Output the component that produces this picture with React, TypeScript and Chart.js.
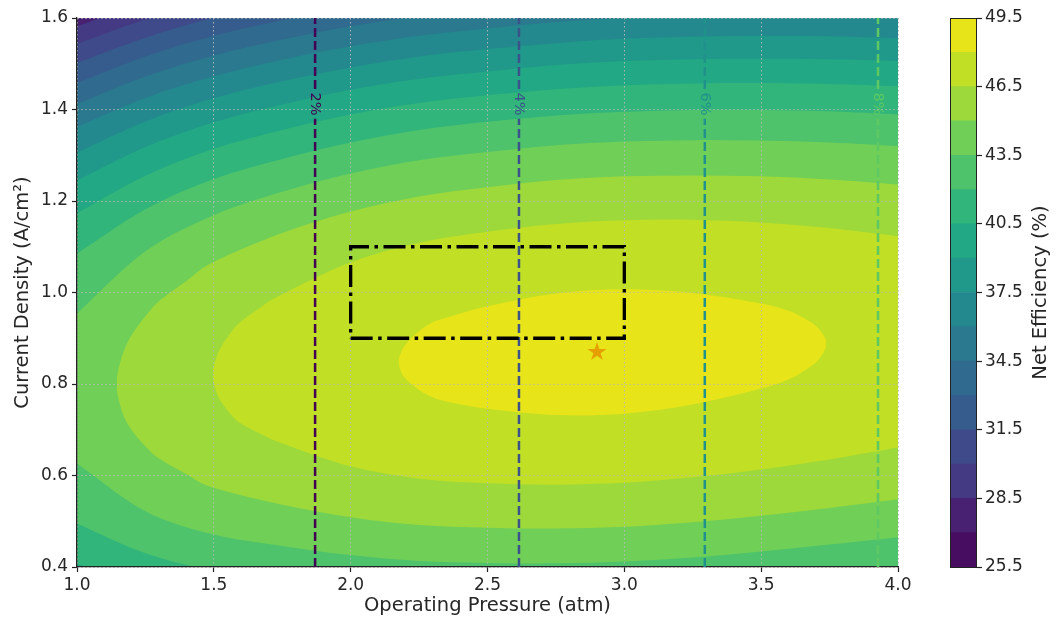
import React, { useEffect, useRef } from 'react';
import { Chart, registerables } from 'chart.js';

Chart.register(...registerables);

// ---------- data ----------
const pressureTicks = [1.0, 1.5, 2.0, 2.5, 3.0, 3.5, 4.0];
const densityTicks = [0.4, 0.6, 0.8, 1.0, 1.2, 1.4, 1.6];
const efficiencyLevels = [25.5, 27, 28.5, 30, 31.5, 33, 34.5, 36, 37.5, 39, 40.5, 42, 43.5, 45, 46.5, 48, 49.5];
const colorbarTicks = [25.5, 28.5, 31.5, 34.5, 37.5, 40.5, 43.5, 46.5, 49.5];

// Contour boundaries of net efficiency, [pressure (atm), current density (A/cm²)].
// Each loop encloses the region above its level (parts outside the axes are clipped).
const contour27 = [[0.85, 1.589], [1.0, 1.619], [1.25, 1.67], [4.15, 1.67], [4.2, 0.2], [0.8, 0.2]];
const contour28_5 = [[0.85, 1.551], [1.0, 1.582], [1.25, 1.634], [1.5, 1.67], [4.15, 1.67], [4.2, 0.2], [0.8, 0.2]];
const contour30 = [[0.85, 1.511], [1.0, 1.543], [1.25, 1.597], [1.5, 1.639], [1.75, 1.67], [4.15, 1.67], [4.2, 0.2], [0.8, 0.2]];
const contour31_5 = [[0.85, 1.469], [1.0, 1.502], [1.25, 1.557], [1.5, 1.601], [1.75, 1.634], [2.0, 1.66], [4.15, 1.66], [4.2, 0.2], [0.8, 0.2]];
const contour33 = [[0.85, 1.423], [1.0, 1.458], [1.25, 1.516], [1.5, 1.561], [1.75, 1.595], [2.0, 1.622], [2.25, 1.645], [2.5, 1.66], [4.15, 1.66], [4.2, 0.2], [0.8, 0.2]];
const contour34_5 = [[0.85, 1.376], [1.0, 1.412], [1.25, 1.472], [1.5, 1.518], [1.75, 1.553], [2.0, 1.582], [2.25, 1.604], [2.5, 1.62], [2.75, 1.633], [3.0, 1.643], [3.5, 1.65], [4.15, 1.65], [4.2, 0.2], [0.8, 0.2]];
const contour36 = [[0.85, 1.324], [1.0, 1.362], [1.25, 1.425], [1.5, 1.473], [1.75, 1.509], [2.0, 1.538], [2.25, 1.561], [2.5, 1.577], [2.75, 1.591], [3.0, 1.6], [3.25, 1.604], [3.5, 1.607], [3.75, 1.606], [4.0, 1.603], [4.15, 1.601], [4.2, 0.2], [0.8, 0.2]];
const contour37_5 = [[0.85, 1.265], [1.0, 1.306], [1.25, 1.374], [1.5, 1.425], [1.75, 1.462], [2.0, 1.492], [2.25, 1.516], [2.5, 1.532], [2.75, 1.545], [3.0, 1.555], [3.25, 1.559], [3.5, 1.561], [3.75, 1.56], [4.0, 1.556], [4.15, 1.554], [4.2, 0.2], [0.8, 0.2]];
const contour39 = [[0.85, 1.201], [1.0, 1.245], [1.25, 1.318], [1.5, 1.372], [1.75, 1.411], [2.0, 1.443], [2.25, 1.467], [2.5, 1.483], [2.75, 1.497], [3.0, 1.506], [3.25, 1.51], [3.5, 1.511], [3.75, 1.51], [4.0, 1.506], [4.15, 1.503], [4.2, 0.2], [0.8, 0.2]];
const contour40_5 = [[0.85, 1.124], [1.0, 1.173], [1.25, 1.255], [1.5, 1.314], [1.75, 1.355], [2.0, 1.389], [2.25, 1.414], [2.5, 1.431], [2.75, 1.444], [3.0, 1.453], [3.25, 1.457], [3.5, 1.458], [3.75, 1.456], [4.0, 1.451], [4.15, 1.448],
  [4.15, 0.341], [4.0, 0.333], [3.75, 0.32], [3.5, 0.308], [3.25, 0.297], [3.0, 0.289], [2.75, 0.285], [2.5, 0.286], [2.25, 0.288], [2.0, 0.298], [1.75, 0.311], [1.5, 0.326], [1.25, 0.357], [1.0, 0.407], [0.85, 0.437]];
const contour42 = [[0.85, 1.027], [1.0, 1.085], [1.25, 1.182], [1.5, 1.248], [1.75, 1.292], [2.0, 1.328], [2.25, 1.355], [2.5, 1.373], [2.75, 1.387], [3.0, 1.395], [3.25, 1.399], [3.5, 1.399], [3.75, 1.396], [4.0, 1.389], [4.15, 1.385],
  [4.15, 0.404], [4.0, 0.395], [3.75, 0.38], [3.5, 0.367], [3.25, 0.356], [3.0, 0.347], [2.75, 0.343], [2.5, 0.344], [2.25, 0.347], [2.0, 0.358], [1.75, 0.374], [1.5, 0.392], [1.25, 0.43], [1.0, 0.495], [0.85, 0.534]];
const contour43_5 = [[0.85, 0.872], [1.0, 0.954], [1.25, 1.09], [1.5, 1.169], [1.75, 1.22], [2.0, 1.26], [2.25, 1.289], [2.5, 1.307], [2.75, 1.322], [3.0, 1.33], [3.25, 1.333], [3.5, 1.332], [3.75, 1.328], [4.0, 1.32], [4.15, 1.315],
  [4.15, 0.475], [4.0, 0.465], [3.75, 0.449], [3.5, 0.434], [3.25, 0.421], [3.0, 0.412], [2.75, 0.408], [2.5, 0.409], [2.25, 0.413], [2.0, 0.426], [1.75, 0.446], [1.5, 0.471], [1.25, 0.522], [1.0, 0.626], [0.85, 0.688]];
const contour45 = [[1.146, 0.8], [1.15, 0.828], [1.17, 0.87], [1.2, 0.907], [1.25, 0.948], [1.3, 0.981], [1.4, 1.025], [1.5, 1.067], [1.75, 1.13], [2.0, 1.177], [2.25, 1.21], [2.5, 1.23], [2.75, 1.246], [3.0, 1.254], [3.25, 1.256], [3.5, 1.254], [3.75, 1.247], [4.0, 1.236], [4.15, 1.229],
  [4.15, 0.559], [4.0, 0.548], [3.75, 0.529], [3.5, 0.512], [3.25, 0.498], [3.0, 0.488], [2.75, 0.484], [2.5, 0.486], [2.25, 0.492], [2.0, 0.509], [1.75, 0.536], [1.5, 0.573], [1.4, 0.603], [1.3, 0.637], [1.25, 0.664], [1.2, 0.699], [1.17, 0.731], [1.15, 0.772]];
const contour46_5 = [[1.497, 0.82], [1.5, 0.839], [1.52, 0.874], [1.56, 0.911], [1.6, 0.937], [1.67, 0.967], [1.75, 0.996], [2.0, 1.066], [2.25, 1.109], [2.5, 1.133], [2.75, 1.15], [3.0, 1.158], [3.25, 1.159], [3.5, 1.153], [3.75, 1.141], [4.0, 1.123], [4.15, 1.112],
  [4.15, 0.677], [4.0, 0.661], [3.75, 0.635], [3.5, 0.613], [3.25, 0.596], [3.0, 0.584], [2.75, 0.58], [2.5, 0.583], [2.25, 0.593], [2.0, 0.62], [1.75, 0.67], [1.67, 0.691], [1.6, 0.713], [1.56, 0.735], [1.52, 0.768], [1.5, 0.801]];
const contour48 = [[2.176, 0.848], [2.18, 0.863], [2.2, 0.886], [2.25, 0.916], [2.3, 0.935], [2.35, 0.945], [2.5, 0.97], [2.75, 0.998], [3.0, 1.007], [3.25, 0.999], [3.5, 0.976], [3.6, 0.96], [3.65, 0.946], [3.7, 0.927], [3.73, 0.905], [3.737, 0.888],
  [3.73, 0.871], [3.7, 0.847], [3.65, 0.826], [3.6, 0.81], [3.5, 0.79], [3.25, 0.755], [3.0, 0.735], [2.75, 0.732], [2.5, 0.746], [2.35, 0.762], [2.3, 0.771], [2.25, 0.787], [2.2, 0.812], [2.18, 0.833]];

const contourLoops = [contour27, contour28_5, contour30, contour31_5, contour33, contour34_5, contour36, contour37_5,
  contour39, contour40_5, contour42, contour43_5, contour45, contour46_5, contour48];

const crossoverLabels = ['2%', '4%', '6%', '8%'];
const crossoverPressure = [1.87, 2.615, 3.294, 3.927];
const crossoverLabelDensity = 1.412;
const crossoverGap = [1.38, 1.445];

const windowPressure = [2.0, 3.0];
const windowDensity = [0.9, 1.1];
const optimumPressure = 2.9;
const optimumDensity = 0.87;

// ---------- styling ----------
const FONT = 'DejaVu Sans';
const TEXT = '#262626';
const bandColors = ['#470d60', '#482173', '#443983', '#3e4a89', '#365c8d', '#306a8e', '#2a798e', '#23898e',
  '#20988a', '#22a884', '#31b57b', '#4ec36b', '#70cf57', '#9dd93b', '#c0df25', '#e7e419'];
const crossoverColors = ['#440154', '#3b528b', '#21918c', '#5ec962'];
const GRID = 'rgba(185,185,185,0.9)';

function smoothLoop(ctx: CanvasRenderingContext2D, pts: number[][]) {
  const n = pts.length;
  ctx.moveTo(pts[0][0], pts[0][1]);
  for (let i = 0; i < n; i++) {
    const p0 = pts[(i - 1 + n) % n];
    const p1 = pts[i];
    const p2 = pts[(i + 1) % n];
    const p3 = pts[(i + 2) % n];
    ctx.bezierCurveTo(
      p1[0] + (p2[0] - p0[0]) / 6, p1[1] + (p2[1] - p0[1]) / 6,
      p2[0] - (p3[0] - p1[0]) / 6, p2[1] - (p3[1] - p1[1]) / 6,
      p2[0], p2[1]);
  }
  ctx.closePath();
}

const contourFillPlugin = {
  id: 'contourFill',
  beforeDraw(chart: any) {
    const { ctx, chartArea: a, scales } = chart;
    const xs = scales.x;
    const ys = scales.y;
    ctx.save();
    ctx.beginPath();
    ctx.rect(a.left, a.top, a.right - a.left, a.bottom - a.top);
    ctx.clip();
    ctx.fillStyle = bandColors[0];
    ctx.fillRect(a.left, a.top, a.right - a.left, a.bottom - a.top);
    chart.data.datasets.forEach((ds: any) => {
      if (ds.bandIndex === undefined) return;
      const pts = ds.data.map((p: any) => [xs.getPixelForValue(p.x), ys.getPixelForValue(p.y)]);
      ctx.fillStyle = bandColors[ds.bandIndex];
      ctx.beginPath();
      smoothLoop(ctx, pts);
      ctx.fill();
    });
    ctx.restore();
  },
};

const crossoverLabelPlugin = {
  id: 'crossoverLabels',
  afterDatasetsDraw(chart: any) {
    const { ctx, scales } = chart;
    ctx.save();
    ctx.font = `14.5px "${FONT}"`;
    ctx.textAlign = 'center';
    ctx.textBaseline = 'middle';
    crossoverLabels.forEach((label, i) => {
      const px = scales.x.getPixelForValue(crossoverPressure[i]);
      const py = scales.y.getPixelForValue(crossoverLabelDensity);
      ctx.save();
      ctx.translate(px, py);
      ctx.rotate(Math.PI / 2);
      ctx.fillStyle = crossoverColors[i];
      ctx.fillText(label, 0, 0);
      ctx.restore();
    });
    ctx.restore();
  },
};

const colorbarPlugin = {
  id: 'colorbarFrame',
  afterDraw(chart: any) {
    const { ctx, chartArea: a } = chart;
    ctx.save();
    ctx.strokeStyle = '#222';
    ctx.lineWidth = 1;
    ctx.strokeRect(a.left + 0.5, a.top + 0.5, a.right - a.left - 1, a.bottom - a.top);
    ctx.font = `19.5px "${FONT}"`;
    ctx.fillStyle = TEXT;
    ctx.textAlign = 'center';
    ctx.textBaseline = 'middle';
    ctx.translate(chart.width - 15, (a.top + a.bottom) / 2);
    ctx.rotate(-Math.PI / 2);
    ctx.fillText('Net Efficiency (%)', 0, 0);
    ctx.restore();
  },
};

function makeStar(color: string, R: number) {
  const c = document.createElement('canvas');
  const size = Math.ceil(R * 2 + 2);
  c.width = size;
  c.height = size;
  const g = c.getContext('2d')!;
  const cx = size / 2;
  const cy = size / 2;
  const r = R * 0.381966;
  g.beginPath();
  for (let i = 0; i < 10; i++) {
    const ang = -Math.PI / 2 + (i * Math.PI) / 5;
    const rad = i % 2 === 0 ? R : r;
    const x = cx + rad * Math.cos(ang);
    const y = cy + rad * Math.sin(ang);
    if (i === 0) g.moveTo(x, y); else g.lineTo(x, y);
  }
  g.closePath();
  g.fillStyle = color;
  g.fill();
  return c;
}

export default function App() {
  const mainRef = useRef<HTMLCanvasElement>(null);
  const barRef = useRef<HTMLCanvasElement>(null);

  useEffect(() => {
    const star = makeStar('#e69f00', 10);

    const datasets: any[] = [];
    datasets.push({
      data: [{ x: optimumPressure, y: optimumDensity }],
      pointStyle: star,
      pointRadius: 10,
      showLine: false,
    });
    datasets.push({
      data: [
        { x: windowPressure[0], y: windowDensity[0] },
        { x: windowPressure[1], y: windowDensity[0] },
        { x: windowPressure[1], y: windowDensity[1] },
        { x: windowPressure[0], y: windowDensity[1] },
        { x: windowPressure[0], y: windowDensity[0] },
      ],
      showLine: true,
      borderColor: '#000',
      borderWidth: 3.3,
      borderDash: [22, 5.5, 3.5, 5.5],
      borderJoinStyle: 'miter',
      pointRadius: 0,
      fill: false,
    });
    crossoverPressure.forEach((p, i) => {
      datasets.push({
        data: [
          { x: p, y: densityTicks[0] },
          { x: p, y: crossoverGap[0] },
          { x: p, y: null },
          { x: p, y: crossoverGap[1] },
          { x: p, y: densityTicks[densityTicks.length - 1] },
        ],
        showLine: true,
        spanGaps: false,
        borderColor: crossoverColors[i],
        borderWidth: 2.5,
        borderDash: [9, 4],
        pointRadius: 0,
        fill: false,
      });
    });
    contourLoops.forEach((loop, k) => {
      datasets.push({
        bandIndex: k + 1,
        level: efficiencyLevels[k + 1],
        data: loop.map(([p, j]) => ({ x: p, y: j })),
        showLine: false,
        pointRadius: 0,
      });
    });

    const tickFont = { family: FONT, size: 17 };
    const titleFont = { family: FONT, size: 19.5, lineHeight: 1.2 };

    const main = new Chart(mainRef.current!, {
      type: 'scatter',
      data: { datasets },
      plugins: [contourFillPlugin, crossoverLabelPlugin],
      options: {
        responsive: false,
        animation: false,
        devicePixelRatio: 1,
        events: [],
        layout: { padding: { left: 0, top: 18, right: 32, bottom: 0 } },
        plugins: { legend: { display: false }, tooltip: { enabled: false } },
        scales: {
          x: {
            type: 'linear',
            min: 1,
            max: 4,
            afterBuildTicks: (s: any) => { s.ticks = pressureTicks.map((v) => ({ value: v })); },
            afterFit: (s: any) => { s.height = 55; },
            ticks: { font: tickFont, color: TEXT, padding: 3, autoSkip: false, maxRotation: 0, callback: (v: any) => Number(v).toFixed(1) },
            grid: { color: GRID, lineWidth: 1, tickLength: 5, tickColor: '#222', tickWidth: 1.2 },
            border: { display: true, color: '#222', width: 1.3, dash: [1.5, 2.5] },
            title: { display: true, text: 'Operating Pressure (atm)', font: titleFont, color: TEXT, padding: { top: 0, bottom: 4 } },
          },
          y: {
            type: 'linear',
            min: 0.4,
            max: 1.6,
            afterBuildTicks: (s: any) => { s.ticks = densityTicks.map((v) => ({ value: v })); },
            afterFit: (s: any) => { s.width = 77; },
            ticks: { font: tickFont, color: TEXT, padding: 4, autoSkip: false, callback: (v: any) => Number(v).toFixed(1) },
            grid: { color: GRID, lineWidth: 1, tickLength: 5, tickColor: '#222', tickWidth: 1.2 },
            border: { display: true, color: '#222', width: 1.3, dash: [1.5, 2.5] },
            title: { display: true, text: 'Current Density (A/cm²)', font: titleFont, color: TEXT, padding: { top: 11, bottom: 0 } },
          },
        },
      } as any,
    });

    const barDatasets = bandColors.map((c, i) => ({
      data: [[efficiencyLevels[i], efficiencyLevels[i + 1]]],
      backgroundColor: c,
      borderWidth: 0,
      barPercentage: 1,
      categoryPercentage: 1,
      grouped: false,
    }));

    const bar = new Chart(barRef.current!, {
      type: 'bar',
      data: { labels: [''], datasets: barDatasets as any },
      plugins: [colorbarPlugin],
      options: {
        responsive: false,
        animation: false,
        devicePixelRatio: 1,
        events: [],
        layout: { padding: { left: 20, top: 18, right: 0, bottom: 55 } },
        plugins: { legend: { display: false }, tooltip: { enabled: false } },
        scales: {
          x: { display: false },
          y: {
            position: 'right',
            min: efficiencyLevels[0],
            max: efficiencyLevels[efficiencyLevels.length - 1],
            afterBuildTicks: (s: any) => { s.ticks = colorbarTicks.map((v) => ({ value: v })); },
            afterFit: (s: any) => { s.width = 79; },
            ticks: { font: tickFont, color: TEXT, padding: 3, autoSkip: false, callback: (v: any) => Number(v).toFixed(1) },
            grid: { drawOnChartArea: false, tickLength: 5, tickColor: '#222', tickWidth: 1.2 },
            border: { display: false },
          },
        },
      } as any,
    });

    return () => {
      main.destroy();
      bar.destroy();
    };
  }, []);

  return (
    <div style={{ position: 'absolute', left: 0, top: 0, width: 1056, height: 622, background: '#fff' }}>
      <canvas ref={mainRef} width={930} height={622} style={{ position: 'absolute', left: 0, top: 0, width: 930, height: 622 }} />
      <canvas ref={barRef} width={126} height={622} style={{ position: 'absolute', left: 930, top: 0, width: 126, height: 622 }} />
    </div>
  );
}
